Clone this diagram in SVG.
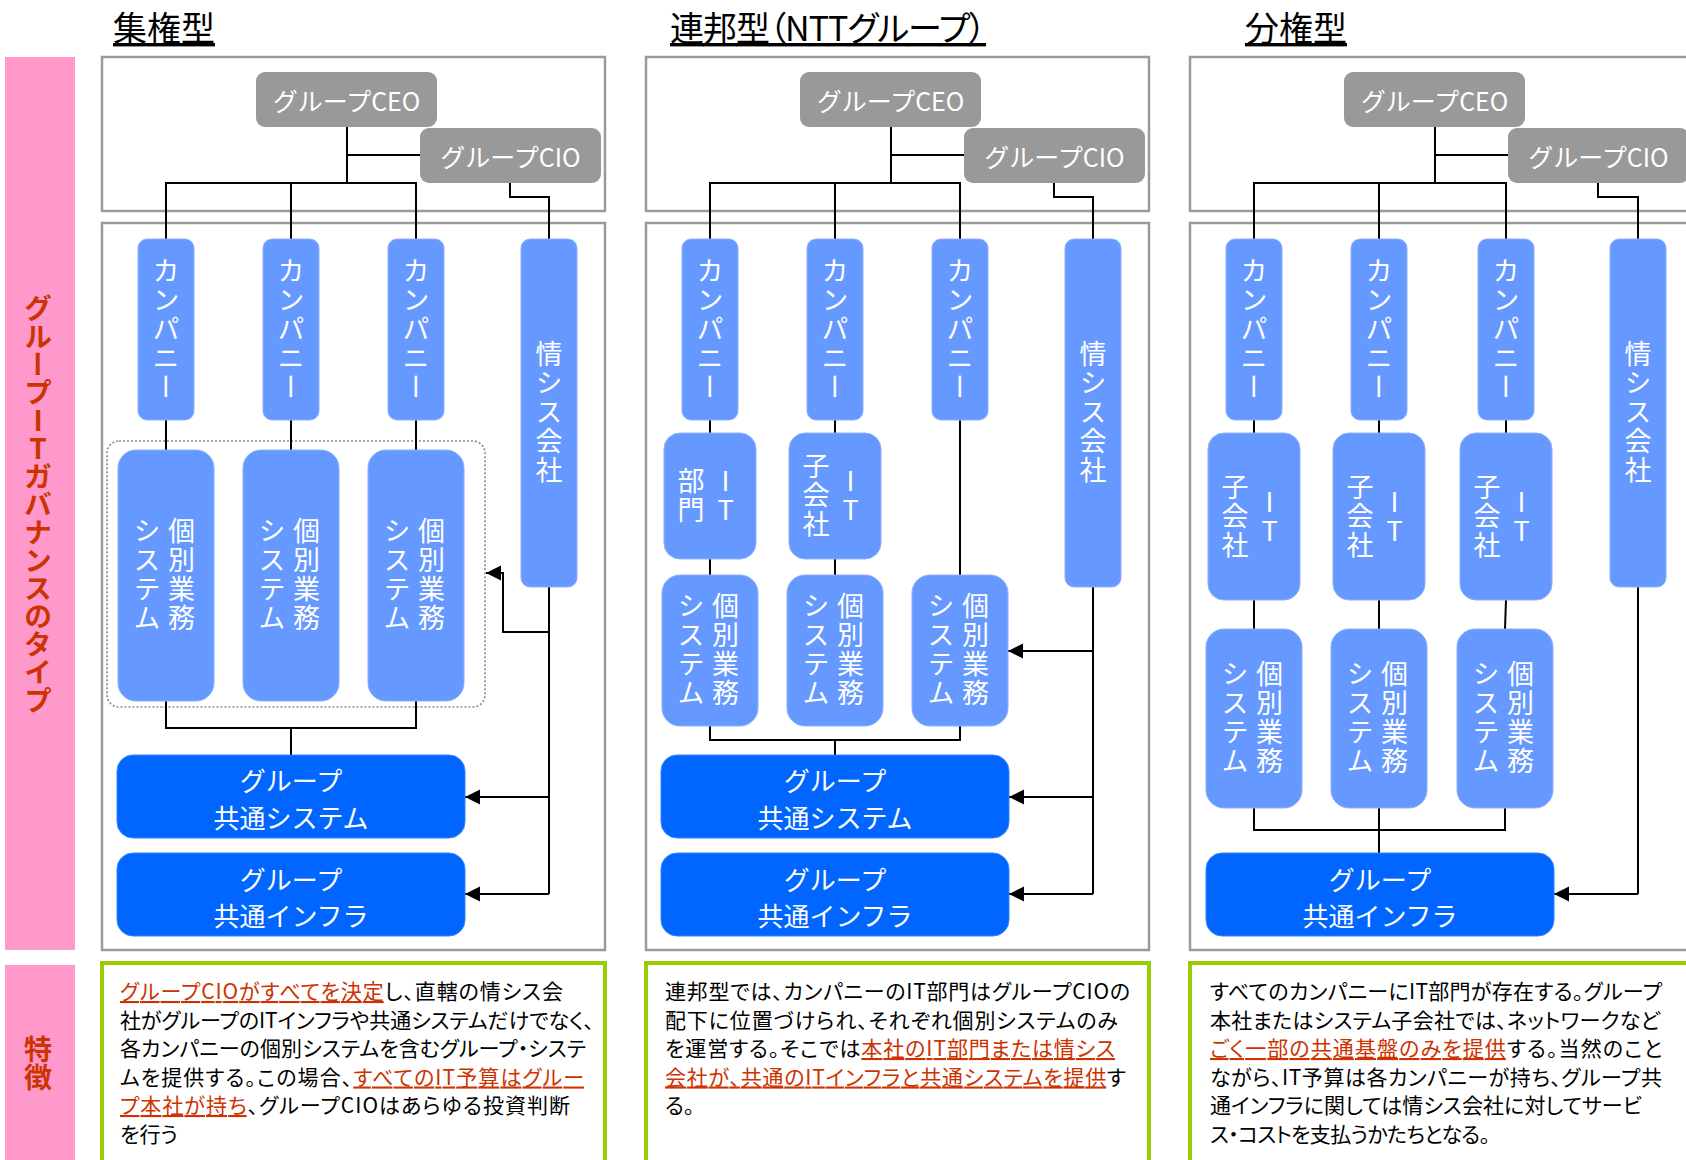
<svg xmlns="http://www.w3.org/2000/svg" width="1686" height="1160" viewBox="0 0 1686 1160">
<style>
.bg{fill:#fff}
.pink{fill:#ff99cc}
.frame{fill:#fff;stroke:#9a9a9a;stroke-width:2.5}
.gbox{fill:#fff;stroke:#99cc00;stroke-width:4}
.gray{fill:#999999}
.lb{fill:#6699ff;stroke:#8cb0ff;stroke-width:1}
.db{fill:#0066ff;stroke:#3385ff;stroke-width:1}
.dot{fill:none;stroke:#8a8a8a;stroke-width:1.6;stroke-dasharray:2 2}
.ln{fill:none;stroke:#000;stroke-width:2}
.arr{marker-end:url(#ah)}
text{font-family:"Noto Sans CJK JP","Noto Sans",sans-serif}
.wt{fill:#fff;font-size:25px;text-anchor:middle;dominant-baseline:central}
.wt2{fill:#fff;font-size:26px;text-anchor:middle;dominant-baseline:central}
.vt{fill:#fff;font-size:27px;letter-spacing:2px;writing-mode:vertical-rl;text-orientation:upright;text-anchor:middle}
.vlab{fill:#cc3300;font-size:28px;font-weight:700;writing-mode:vertical-rl;text-orientation:upright;text-anchor:middle}
.title{fill:#000;font-size:34px;text-decoration:underline}
.palt{font-feature-settings:"palt"}
.desc{fill:#000;font-size:21px;font-feature-settings:"palt"}
.hl{fill:#cc3300;text-decoration:underline}
</style>
<defs>
<marker id="ah" markerUnits="userSpaceOnUse" markerWidth="16" markerHeight="16" refX="15" refY="8" orient="auto">
<path d="M0,0.5 L15,8 L0,15.5 Z" fill="#000"/>
</marker>
</defs>
<rect class="bg" x="0" y="0" width="1686" height="1160"/>

<!-- side labels -->
<g id="side-type">
<rect class="pink" x="5" y="57" width="70" height="893"/>
<text class="vlab" x="38" y="504">グループITガバナンスのタイプ</text>
</g>
<g id="side-feature">
<rect class="pink" x="5" y="965" width="70" height="200"/>
<text class="vlab" x="38" y="1063">特徴</text>
</g>

<!-- titles -->
<g id="titles">
<text class="title" x="113" y="41">集権型</text>
<text class="title palt" x="670" y="41" textLength="316" lengthAdjust="spacing">連邦型（NTTグループ）</text>
<text class="title" x="1245" y="41">分権型</text>
</g>

<!-- frames -->
<g id="frames">
<rect class="frame" x="102" y="57" width="503" height="154"/>
<rect class="frame" x="102" y="223" width="503" height="727"/>
<rect class="frame" x="646" y="57" width="503" height="154"/>
<rect class="frame" x="646" y="223" width="503" height="727"/>
<rect class="frame" x="1190" y="57" width="503" height="154"/>
<rect class="frame" x="1190" y="223" width="503" height="727"/>
<rect class="dot" x="107" y="441" width="378" height="266" rx="12"/>
</g>

<!-- connectors -->
<g id="connectors">
<!-- col1 -->
<path class="ln" d="M347,127 V183 M347,155 H420 M166,239 V183 H416 V239 M291,183 V239 M510,183 V197 H549 V239"/>
<path class="ln" d="M166,420 V450 M291,420 V450 M416,420 V450 M166,701 V728 H416 V701 M291,728 V755 M549,587 V894"/>
<path class="ln arr" d="M549,894 H465"/>
<path class="ln arr" d="M549,797 H465"/>
<path class="ln arr" d="M549,632 H503 V573 H486"/>
<!-- col2 -->
<path class="ln" d="M891,127 V183 M891,155 H964 M710,239 V183 H960 V239 M835,183 V239 M1054,183 V197 H1093 V239"/>
<path class="ln" d="M710,420 V433 M835,420 V433 M710,559 V575 M835,559 V575 M960,420 V575 M710,726 V740 H960 V726 M835,740 V755 M1093,587 V894"/>
<path class="ln arr" d="M1093,894 H1009"/>
<path class="ln arr" d="M1093,797 H1009"/>
<path class="ln arr" d="M1093,651 H1008"/>
<!-- col3 -->
<path class="ln" d="M1435,127 V183 M1435,155 H1508 M1254,239 V183 H1506 V239 M1379,183 V239 M1598,183 V197 H1638 V239"/>
<path class="ln" d="M1254,420 V433 M1379,420 V433 M1506,420 V433 M1254,600 V629 M1379,600 V629 M1506,600 L1505,629 M1254,808 V830 H1505 V808 M1379,808 V853 M1638,587 V894"/>
<path class="ln arr" d="M1638,894 H1554"/>
</g>

<!-- column 1 nodes -->
<g id="c1-ceo"><rect class="gray" x="256" y="72" width="181" height="55" rx="9"/><text class="wt" x="346.5" y="100">グループCEO</text></g>
<g id="c1-cio"><rect class="gray" x="420" y="128" width="181" height="55" rx="9"/><text class="wt" x="510.5" y="156">グループCIO</text></g>
<g id="c1-comp1"><rect class="lb" x="138" y="239" width="56" height="181" rx="9"/><text class="vt" x="166" y="329.5">カンパニー</text></g>
<g id="c1-comp2"><rect class="lb" x="263" y="239" width="56" height="181" rx="9"/><text class="vt" x="291" y="329.5">カンパニー</text></g>
<g id="c1-comp3"><rect class="lb" x="388" y="239" width="56" height="181" rx="9"/><text class="vt" x="416" y="329.5">カンパニー</text></g>
<g id="c1-joshisu"><rect class="lb" x="521" y="239" width="56" height="348" rx="9"/><text class="vt" x="549" y="413">情シス会社</text></g>
<g id="c1-sys1"><rect class="lb" x="118" y="450" width="96" height="251" rx="18"/><text class="vt" x="181.5" y="575.5">個別業務</text><text class="vt" x="147" y="575.5">システム</text></g>
<g id="c1-sys2"><rect class="lb" x="243" y="450" width="96" height="251" rx="18"/><text class="vt" x="306.5" y="575.5">個別業務</text><text class="vt" x="272" y="575.5">システム</text></g>
<g id="c1-sys3"><rect class="lb" x="368" y="450" width="96" height="251" rx="18"/><text class="vt" x="431.5" y="575.5">個別業務</text><text class="vt" x="397" y="575.5">システム</text></g>
<g id="c1-common-sys"><rect class="db" x="117" y="755" width="348" height="83" rx="16"/><text class="wt2" x="291" y="779">グループ</text><text class="wt2" x="291" y="816">共通システム</text></g>
<g id="c1-common-infra"><rect class="db" x="117" y="853" width="348" height="83" rx="16"/><text class="wt2" x="291" y="878">グループ</text><text class="wt2" x="291" y="914">共通インフラ</text></g>

<!-- column 2 nodes -->
<g id="c2-ceo"><rect class="gray" x="800" y="72" width="181" height="55" rx="9"/><text class="wt" x="890.5" y="100">グループCEO</text></g>
<g id="c2-cio"><rect class="gray" x="964" y="128" width="181" height="55" rx="9"/><text class="wt" x="1054.5" y="156">グループCIO</text></g>
<g id="c2-comp1"><rect class="lb" x="682" y="239" width="56" height="181" rx="9"/><text class="vt" x="710" y="329.5">カンパニー</text></g>
<g id="c2-comp2"><rect class="lb" x="807" y="239" width="56" height="181" rx="9"/><text class="vt" x="835" y="329.5">カンパニー</text></g>
<g id="c2-comp3"><rect class="lb" x="932" y="239" width="56" height="181" rx="9"/><text class="vt" x="960" y="329.5">カンパニー</text></g>
<g id="c2-joshisu"><rect class="lb" x="1065" y="239" width="56" height="348" rx="9"/><text class="vt" x="1093" y="413">情シス会社</text></g>
<g id="c2-itdept"><rect class="lb" x="664" y="433" width="92" height="126" rx="16"/><text class="vt" x="725.5" y="496">IT</text><text class="vt" x="691" y="496">部門</text></g>
<g id="c2-itsub"><rect class="lb" x="789" y="433" width="92" height="126" rx="16"/><text class="vt" x="850.5" y="496">IT</text><text class="vt" x="816" y="496">子会社</text></g>
<g id="c2-sys1"><rect class="lb" x="662" y="575" width="96" height="151" rx="18"/><text class="vt" x="725.5" y="650.5">個別業務</text><text class="vt" x="691" y="650.5">システム</text></g>
<g id="c2-sys2"><rect class="lb" x="787" y="575" width="96" height="151" rx="18"/><text class="vt" x="850.5" y="650.5">個別業務</text><text class="vt" x="816" y="650.5">システム</text></g>
<g id="c2-sys3"><rect class="lb" x="912" y="575" width="96" height="151" rx="18"/><text class="vt" x="975.5" y="650.5">個別業務</text><text class="vt" x="941" y="650.5">システム</text></g>
<g id="c2-common-sys"><rect class="db" x="661" y="755" width="348" height="83" rx="16"/><text class="wt2" x="835" y="779">グループ</text><text class="wt2" x="835" y="816">共通システム</text></g>
<g id="c2-common-infra"><rect class="db" x="661" y="853" width="348" height="83" rx="16"/><text class="wt2" x="835" y="878">グループ</text><text class="wt2" x="835" y="914">共通インフラ</text></g>

<!-- column 3 nodes -->
<g id="c3-ceo"><rect class="gray" x="1344" y="72" width="181" height="55" rx="9"/><text class="wt" x="1434.5" y="100">グループCEO</text></g>
<g id="c3-cio"><rect class="gray" x="1508" y="128" width="181" height="55" rx="9"/><text class="wt" x="1598.5" y="156">グループCIO</text></g>
<g id="c3-comp1"><rect class="lb" x="1226" y="239" width="56" height="181" rx="9"/><text class="vt" x="1254" y="329.5">カンパニー</text></g>
<g id="c3-comp2"><rect class="lb" x="1351" y="239" width="56" height="181" rx="9"/><text class="vt" x="1379" y="329.5">カンパニー</text></g>
<g id="c3-comp3"><rect class="lb" x="1478" y="239" width="56" height="181" rx="9"/><text class="vt" x="1506" y="329.5">カンパニー</text></g>
<g id="c3-joshisu"><rect class="lb" x="1610" y="239" width="56" height="348" rx="9"/><text class="vt" x="1638" y="413">情シス会社</text></g>
<g id="c3-itsub1"><rect class="lb" x="1208" y="433" width="92" height="167" rx="16"/><text class="vt" x="1269.5" y="517">IT</text><text class="vt" x="1235" y="517">子会社</text></g>
<g id="c3-itsub2"><rect class="lb" x="1333" y="433" width="92" height="167" rx="16"/><text class="vt" x="1394.5" y="517">IT</text><text class="vt" x="1360" y="517">子会社</text></g>
<g id="c3-itsub3"><rect class="lb" x="1460" y="433" width="92" height="167" rx="16"/><text class="vt" x="1521.5" y="517">IT</text><text class="vt" x="1487" y="517">子会社</text></g>
<g id="c3-sys1"><rect class="lb" x="1206" y="629" width="96" height="179" rx="18"/><text class="vt" x="1269.5" y="718.5">個別業務</text><text class="vt" x="1235" y="718.5">システム</text></g>
<g id="c3-sys2"><rect class="lb" x="1331" y="629" width="96" height="179" rx="18"/><text class="vt" x="1394.5" y="718.5">個別業務</text><text class="vt" x="1360" y="718.5">システム</text></g>
<g id="c3-sys3"><rect class="lb" x="1457" y="629" width="96" height="179" rx="18"/><text class="vt" x="1520.5" y="718.5">個別業務</text><text class="vt" x="1486" y="718.5">システム</text></g>
<g id="c3-common-infra"><rect class="db" x="1206" y="853" width="348" height="83" rx="16"/><text class="wt2" x="1380" y="878">グループ</text><text class="wt2" x="1380" y="914">共通インフラ</text></g>

<!-- feature texts -->
<g id="c1-feature">
<rect class="gbox" x="102" y="963" width="503" height="220"/>
<text class="desc" x="120" y="999" textLength="443" lengthAdjust="spacing"><tspan class="hl">グループCIOがすべてを決定</tspan>し、直轄の情シス会</text>
<text class="desc" x="120" y="1027.5" textLength="474" lengthAdjust="spacing">社がグループのITインフラや共通システムだけでなく、</text>
<text class="desc" x="120" y="1056" textLength="466" lengthAdjust="spacing">各カンパニーの個別システムを含むグループ・システ</text>
<text class="desc" x="120" y="1084.5" textLength="464" lengthAdjust="spacing">ムを提供する。この場合、<tspan class="hl">すべてのIT予算はグルー</tspan></text>
<text class="desc" x="120" y="1113" textLength="450" lengthAdjust="spacing"><tspan class="hl">プ本社が持ち</tspan>、グループCIOはあらゆる投資判断</text>
<text class="desc" x="120" y="1141.5">を行う</text>
</g>
<g id="c2-feature">
<rect class="gbox" x="646" y="963" width="503" height="220"/>
<text class="desc" x="665" y="999" textLength="465" lengthAdjust="spacing">連邦型では、カンパニーのIT部門はグループCIOの</text>
<text class="desc" x="665" y="1027.5" textLength="453" lengthAdjust="spacing">配下に位置づけられ、それぞれ個別システムのみ</text>
<text class="desc" x="665" y="1056" textLength="450" lengthAdjust="spacing">を運営する。そこでは<tspan class="hl">本社のIT部門または情シス</tspan></text>
<text class="desc" x="665" y="1084.5" textLength="461" lengthAdjust="spacing"><tspan class="hl">会社が、共通のITインフラと共通システムを提供</tspan>す</text>
<text class="desc" x="665" y="1113">る。</text>
</g>
<g id="c3-feature">
<rect class="gbox" x="1190" y="963" width="503" height="220"/>
<text class="desc" x="1210" y="999" textLength="452" lengthAdjust="spacing">すべてのカンパニーにIT部門が存在する。グループ</text>
<text class="desc" x="1210" y="1027.5" textLength="450" lengthAdjust="spacing">本社またはシステム子会社では、ネットワークなど</text>
<text class="desc" x="1210" y="1056" textLength="452" lengthAdjust="spacing"><tspan class="hl">ごく一部の共通基盤のみを提供</tspan>する。当然のこと</text>
<text class="desc" x="1210" y="1084.5" textLength="452" lengthAdjust="spacing">ながら、IT予算は各カンパニーが持ち、グループ共</text>
<text class="desc" x="1210" y="1113" textLength="432" lengthAdjust="spacing">通インフラに関しては情シス会社に対してサービ</text>
<text class="desc" x="1210" y="1141.5" textLength="280" lengthAdjust="spacing">ス・コストを支払うかたちとなる。</text>
</g>
</svg>
